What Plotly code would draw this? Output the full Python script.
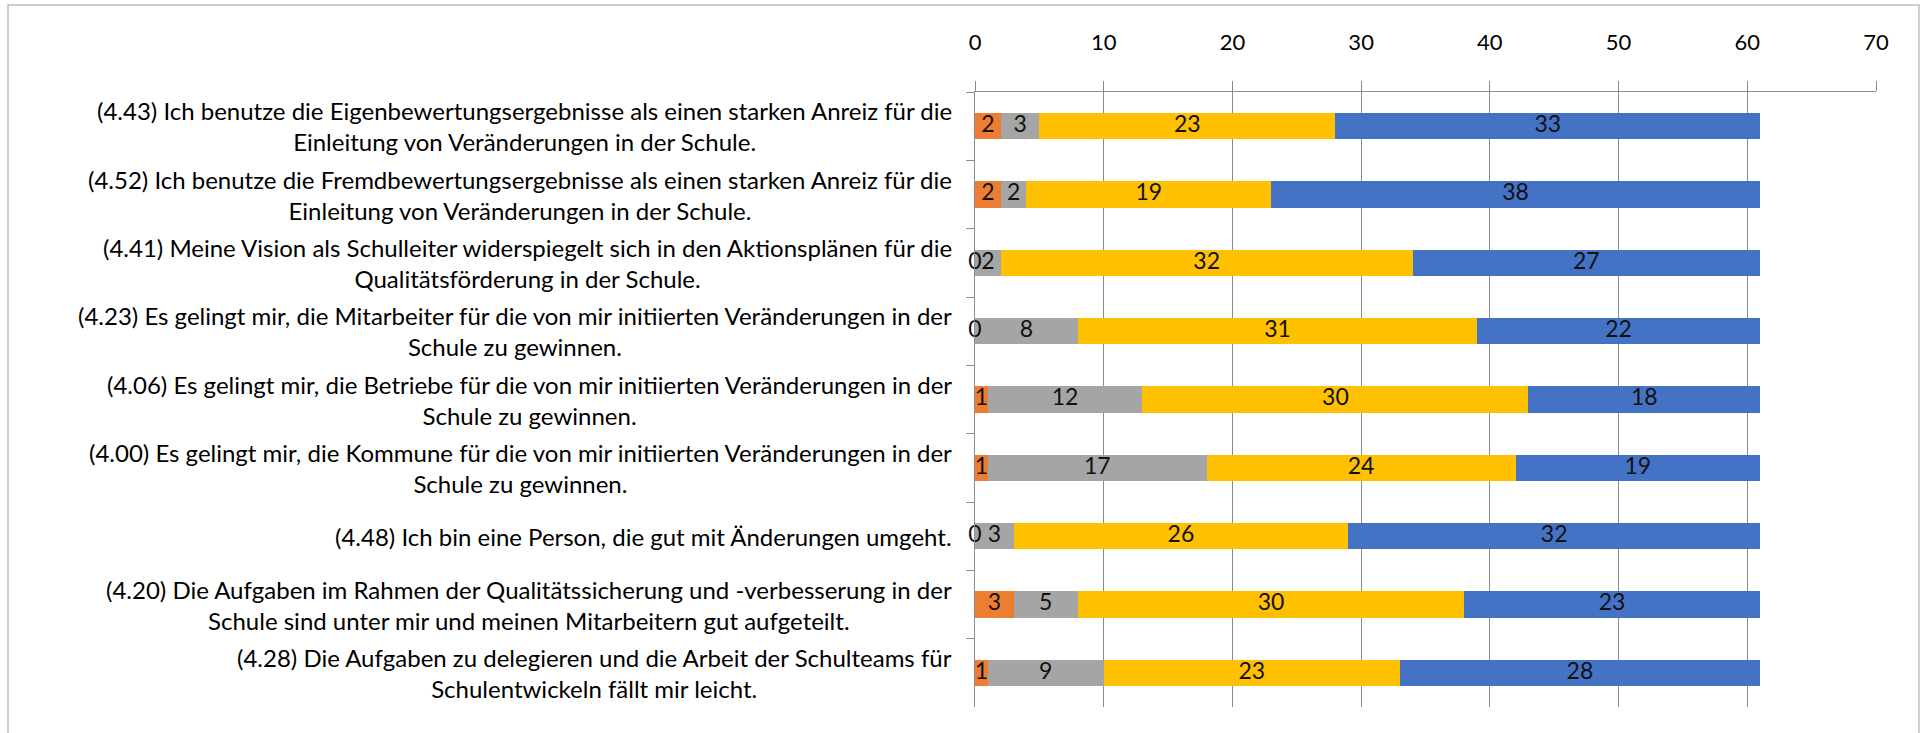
import plotly.graph_objects as go
import numpy as np

categories = [
    "(4.43) Ich benutze die Eigenbewertungsergebnisse als einen starken Anreiz für die<br>Einleitung von Veränderungen in der Schule.",
    "(4.52) Ich benutze die Fremdbewertungsergebnisse als einen starken Anreiz für die<br>Einleitung von Veränderungen in der Schule.",
    "(4.41) Meine Vision als Schulleiter widerspiegelt sich in den Aktionsplänen für die<br>Qualitätsförderung in der Schule.",
    "(4.23) Es gelingt mir, die Mitarbeiter für die von mir initiierten Veränderungen in der<br>Schule zu gewinnen.",
    "(4.06) Es gelingt mir, die Betriebe für die von mir initiierten Veränderungen in der<br>Schule zu gewinnen.",
    "(4.00) Es gelingt mir, die Kommune für die von mir initiierten Veränderungen in der<br>Schule zu gewinnen.",
    "(4.48) Ich bin eine Person, die gut mit Änderungen umgeht.",
    "(4.20) Die Aufgaben im Rahmen der Qualitätssicherung und -verbesserung in der<br>Schule sind unter mir und meinen Mitarbeitern gut aufgeteilt.",
    "(4.28) Die Aufgaben zu delegieren und die Arbeit der Schulteams für<br>Schulentwickeln fällt mir leicht.",
]

series_orange = [2, 2, 0, 0, 1, 1, 0, 3, 1]
series_gray = [3, 2, 2, 8, 12, 17, 3, 5, 9]
series_yellow = [23, 19, 32, 31, 30, 24, 26, 30, 23]
series_blue = [33, 38, 27, 22, 18, 19, 32, 23, 28]

series = [
    ("orange", series_orange, "#ED7D31"),
    ("gray", series_gray, "#A5A5A5"),
    ("yellow", series_yellow, "#FFC000"),
    ("blue", series_blue, "#4472C4"),
]

x_ticks = [0, 10, 20, 30, 40, 50, 60, 70]

FONT = "Lato, Carlito, Calibri, sans-serif"
GRID = "#8C8C8C"

fig = go.Figure()
y_keys = [f"c{i}" for i in range(len(categories))]

cum = np.zeros(len(categories))
for name, vals, color in series:
    vals = np.array(vals, dtype=float)
    fig.add_trace(go.Bar(
        y=y_keys, x=vals, orientation="h", name=name,
        marker=dict(color=color, line=dict(width=0)),
        hoverinfo="x+name",
    ))
    fig.add_trace(go.Scatter(
        y=y_keys, x=cum + vals / 2, mode="text",
        text=[str(int(v)) for v in vals],
        textfont=dict(family=FONT, size=23, color="#111111"),
        textposition="middle center", showlegend=False, hoverinfo="skip",
        cliponaxis=False,
    ))
    cum = cum + vals

W, H = 1926, 733
L, R, T, B = 975, 50, 92, 26
pw, ph = W - L - R, H - T - B

annotations = []
for key, label in zip(y_keys, categories):
    annotations.append(dict(
        x=0, xref="paper", y=key, yref="y", text=label,
        xanchor="right", yanchor="middle", align="center", xshift=-21,
        showarrow=False, font=dict(family=FONT, size=24, color="#000000"),
    ))

fig.update_layout(
    width=W, height=H,
    margin=dict(l=L, r=R, t=T, b=B, autoexpand=False),
    barmode="stack", bargap=0.61,
    showlegend=False,
    plot_bgcolor="white", paper_bgcolor="white",
    annotations=annotations,
    shapes=[dict(
        type="rect", xref="paper", yref="paper",
        x0=(8 - L) / pw, x1=(1919 - L) / pw,
        y0=(H - B - 745) / ph, y1=(H - B - 5) / ph,
        line=dict(color="#BFBFBF", width=1.5), fillcolor="rgba(0,0,0,0)", layer="below",
    )],
)
fig.update_xaxes(
    side="top", range=[0, 70], tickvals=x_ticks, ticktext=[str(t) for t in x_ticks],
    showgrid=True, gridcolor=GRID, gridwidth=1,
    showline=True, linecolor=GRID, linewidth=1,
    ticks="outside", ticklen=10, tickcolor=GRID,
    ticklabelstandoff=22,
    tickfont=dict(family=FONT, size=22, color="#000000"),
    zeroline=False, fixedrange=True,
)
fig.update_yaxes(
    categoryorder="array", categoryarray=y_keys, autorange="reversed",
    showticklabels=False, showgrid=False, zeroline=False,
    showline=True, linecolor=GRID, linewidth=1,
    ticks="outside", ticklen=8, tickcolor=GRID, tickson="boundaries",
    fixedrange=True,
)

fig.write_html(
    "out.html",
    config={"displayModeBar": False},
    post_script="document.body.style.margin='0';document.body.style.overflow='hidden';",
)
